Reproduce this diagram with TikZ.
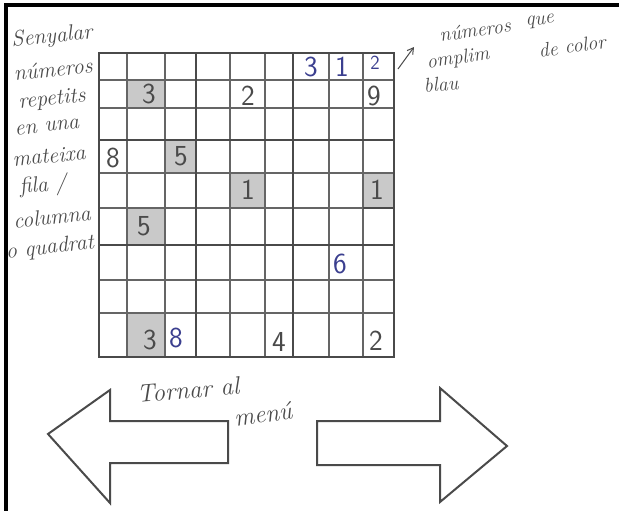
\documentclass[tikz,border=0pt]{standalone}
\usepackage{fontspec}
\usetikzlibrary{arrows.meta}

\definecolor{pencil}{HTML}{4A4A4A}
\definecolor{inkblue}{HTML}{3B3F8F}
\definecolor{hintgray}{HTML}{C9C9C9}

\begin{document}
\begin{tikzpicture}[
  x=1pt, y=-1pt,
  >={Straight Barb[length=6pt,width=7pt]},
  every node/.style={text=pencil},
  note/.style={font=\fontsize{22}{22}\selectfont\itshape, inner sep=0pt},
  sidenote/.style={note, font=\fontsize{20}{20}\selectfont\itshape},
  digit/.style={font=\fontsize{29}{29}\selectfont\sffamily},
  filled/.style={digit, text=inkblue},
  gridline/.style={pencil!85, line width=1.3pt},
  boxline/.style={pencil, line width=2.3pt},
  arrowline/.style={pencil, line width=2pt, line join=miter},
]
\useasboundingbox (0,0) rectangle (619,511);

% Page frame
\draw[line width=3.5pt, black] (619,5) -- (6,5) -- (6,511);

% Repeated numbers (shaded cells)
\fill[hintgray] (127,80) rectangle (165,108);
\fill[hintgray] (165,140) rectangle (196,173);
\fill[hintgray] (230,173) rectangle (265,208);
\fill[hintgray] (363,173) rectangle (394,208);
\fill[hintgray] (127,208) rectangle (165,245);
\fill[hintgray] (127,313) rectangle (165,357);

% Grid
\foreach \xx in {99,127,165,196,230,265,293,329,363,394}
  \draw[gridline] (\xx,53) -- (\xx,357);
\foreach \yy in {53,80,108,140,173,208,245,280,313,357}
  \draw[gridline] (99,\yy) -- (394,\yy);
\draw[boxline] (99,53) rectangle (394,357);
\draw[boxline] (196,53) -- (196,357) (293,53) -- (293,357)
  (99,140) -- (394,140) (99,245) -- (394,245);
\draw[boxline] (363,208) -- (394,208);

% Numbers
\node[filled] (d06) at (311,67) {3};
\node[filled] (d07) at (342,67) {1};
\node[filled, font=\fontsize{20}{20}\selectfont\sffamily] (d08) at (375,63) {2};
\node[digit] (d11) at (149,94) {3};
\node[digit] (d14) at (248,96) {2};
\node[digit] (d18) at (374,96) {9};
\node[digit] (d30) at (113,158) {8};
\node[digit] (d32) at (181,156) {5};
\node[digit] (d44) at (248,190) {1};
\node[digit] (d48) at (377,190) {1};
\node[digit] (d51) at (144,226) {5};
\node[filled] (d67) at (340,264) {6};
\node[digit] (d81) at (150,340) {3};
\node[filled] (d82) at (176,338) {8};
\node[digit] (d85) at (279,342) {4};
\node[digit] (d88) at (376,341) {2};

% Left note
\node[note, rotate=6] (left1) at (52,37) {Senyalar};
\node[note, rotate=6] (left2) at (53,69) {números};
\node[note, rotate=6] (left3) at (52,100) {repetits};
\node[note, rotate=6] (left4) at (47,127) {en una};
\node[note, rotate=6] (left5) at (49,156) {mateixa};
\node[note, rotate=6] (left6) at (43,186) {fila /};
\node[note, rotate=6] (left7) at (52,217) {columna};
\node[note, rotate=6] (left8) at (50,248) {o quadrat};

% Right note
\coordinate (notetail) at (398,69);
\coordinate (notehead) at (414,47);
\draw[->, pencil, line width=1pt] (notetail) -- (notehead);
\node[sidenote, rotate=8] (top1) at (475,30) {números};
\node[sidenote, rotate=6] (top2) at (540,22) {que};
\node[sidenote, rotate=8] (top3) at (458,59) {omplim};
\node[sidenote, rotate=8] (top4) at (572,46) {de color};
\node[sidenote, rotate=5] (top5) at (441,84) {blau};

% Navigation arrows
\draw[arrowline] (48,434) -- (110,390) -- (110,421) -- (228,421)
  -- (228,463) -- (110,463) -- (110,503) -- cycle;
\draw[arrowline] (317,421) -- (440,421) -- (440,388) -- (507,446)
  -- (440,502) -- (440,465) -- (317,465) -- cycle;
\node[note, font=\fontsize{25}{25}\selectfont\itshape, rotate=5] (back1) at (188,390) {Tornar al};
\node[note, font=\fontsize{25}{25}\selectfont\itshape, rotate=8] (back2) at (263,414) {menú};
\end{tikzpicture}
\end{document}
